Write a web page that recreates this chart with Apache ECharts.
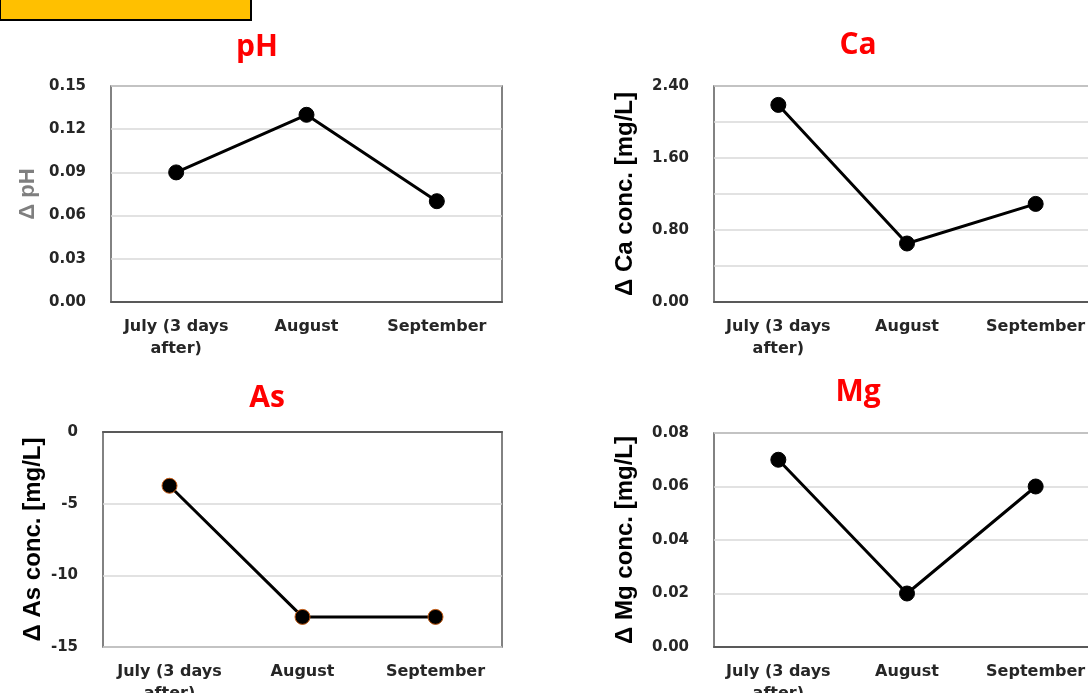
<!DOCTYPE html>
<html>
<head>
<meta charset="utf-8">
<script src="https://cdn.jsdelivr.net/npm/echarts@6/dist/echarts.min.js"></script>
<style>
  html, body { margin: 0; padding: 0; background: #fff; }
  #main { width: 1088px; height: 693px; }
</style>
</head>
<body>
<div id="main"></div>
<script>
const categories = ['July (3 days\nafter)', 'August', 'September'];

const phValues = [0.09, 0.13, 0.07];
const caValues = [2.19, 0.65, 1.09];
const asValues = [-3.75, -12.9, -12.9];
const mgValues = [0.07, 0.02, 0.06];

const phTicks = ['0.00', '0.03', '0.06', '0.09', '0.12', '0.15'];
const caTicks = ['0.00', '0.80', '1.60', '2.40'];
const asTicks = ['-15', '-10', '-5', '0'];
const mgTicks = ['0.00', '0.02', '0.04', '0.06', '0.08'];

const tickFont = { fontFamily: 'DejaVu Sans', fontWeight: 'bold', fontSize: 15, color: '#262626' };

// one panel = grid + x axis + y axis + series
const panels = [
    { title: 'pH', tx: 257, ty: 47, grid: { left: 111, top: 86, width: 391, height: 216 },
      name: 'Δ pH', nameColor: '#7f7f7f', nameSize: 22, nameGap: 72, min: 0, max: 0.15, interval: 0.03,
      ticks: phTicks, digits: 2, data: phValues, border: '#000' },
    { title: 'Ca', tx: 858, ty: 45, grid: { left: 714, top: 86, width: 386, height: 216 },
      name: 'Δ Ca conc. [mg/L]', nameColor: '#000', nameSize: 24, nameGap: 77, min: 0, max: 2.4, interval: 0.4,
      ticks: caTicks, digits: 2, data: caValues, border: '#000' },
    { title: 'As', tx: 267, ty: 398, grid: { left: 103, top: 432, width: 399, height: 215 },
      name: 'Δ As conc. [mg/L]', nameColor: '#000', nameSize: 24, nameGap: 58, min: -15, max: 0, interval: 5,
      ticks: asTicks, digits: 0, data: asValues, border: '#c55a11' },
    { title: 'Mg', tx: 858, ty: 392, grid: { left: 714, top: 433, width: 386, height: 214 },
      name: 'Δ Mg conc. [mg/L]', nameColor: '#000', nameSize: 24, nameGap: 77, min: 0, max: 0.08, interval: 0.02,
      ticks: mgTicks, digits: 2, data: mgValues, border: '#000' }
];

const option = {
    animation: false,
    backgroundColor: '#fff',
    grid: panels.map(p => Object.assign({
        show: true, borderColor: '#595959', borderWidth: 1.5, backgroundColor: '#fff',
        containLabel: false, outerBoundsMode: 'none'
    }, p.grid)),
    xAxis: panels.map((p, i) => ({
        type: 'category',
        gridIndex: i,
        data: categories,
        boundaryGap: true,
        axisLine: { show: true, lineStyle: { color: '#595959', width: 2 } },
        axisTick: { show: false },
        axisLabel: Object.assign({}, tickFont, { interval: 0, margin: 14, lineHeight: 22, fontSize: 16 })
    })),
    yAxis: panels.map((p, i) => ({
        type: 'value',
        gridIndex: i,
        min: p.min,
        max: p.max,
        interval: p.interval,
        name: p.name,
        nameLocation: 'middle',
        nameGap: p.nameGap,
        nameTextStyle: { fontFamily: 'Liberation Sans', fontWeight: 'bold', fontSize: p.nameSize, color: p.nameColor },
        axisLine: { show: false },
        axisTick: { show: false },
        splitLine: { lineStyle: { color: '#d9d9d9', width: 1.5 } },
        axisLabel: Object.assign({
            margin: 25,
            formatter: v => {
                const s = v.toFixed(p.digits);
                return p.ticks.indexOf(s) >= 0 ? s : '';
            }
        }, tickFont)
    })),
    series: panels.map((p, i) => ({
        type: 'line',
        xAxisIndex: i,
        yAxisIndex: i,
        data: p.data,
        symbol: 'circle',
        symbolSize: 15,
        lineStyle: { color: '#000', width: 3 },
        itemStyle: { color: '#000', borderColor: p.border, borderWidth: 1 },
        z: 3
    })),
    graphic: [
        { type: 'rect', shape: { x: 0, y: -3, width: 251, height: 23 },
          style: { fill: '#ffc000', stroke: '#000', lineWidth: 2 } }
    ].concat(panels.map(p => ({
        type: 'text', x: p.tx, y: p.ty,
        style: { text: p.title, fill: '#ff0000', font: 'bold 30px "Open Sans"', align: 'center', verticalAlign: 'middle' }
    })))
};

const myChart = echarts.init(document.getElementById('main'));
myChart.setOption(option);
</script>
</body>
</html>
